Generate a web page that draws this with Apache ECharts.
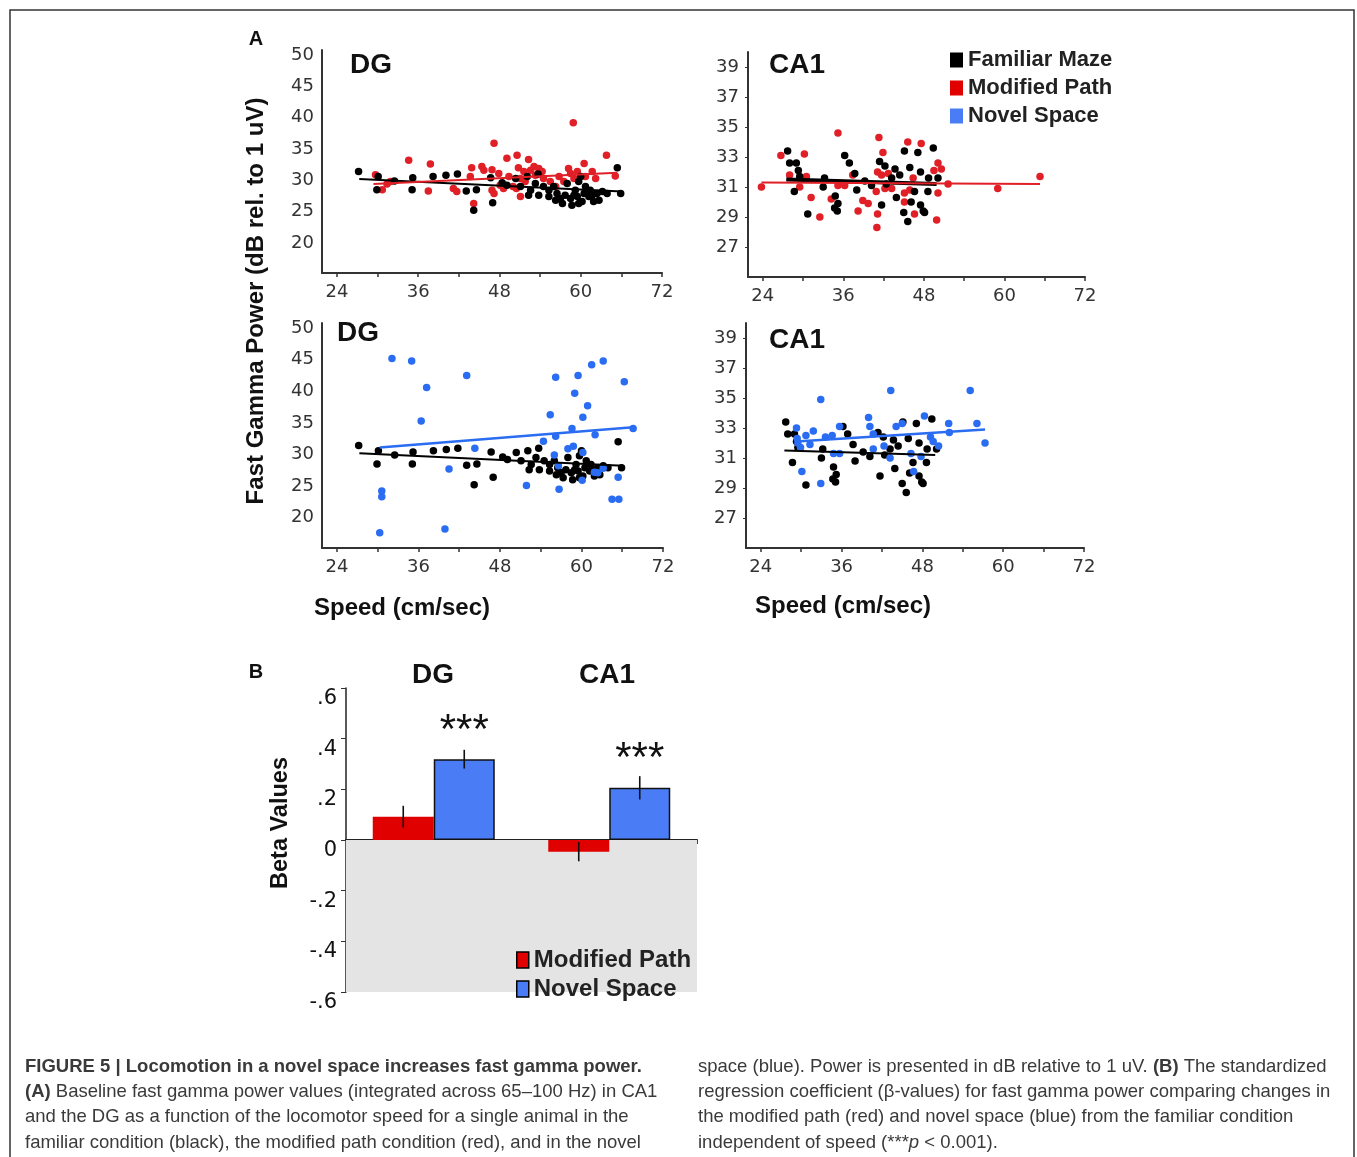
<!DOCTYPE html>
<html><head><meta charset="utf-8">
<script src="https://cdn.jsdelivr.net/npm/echarts@6/dist/echarts.min.js"></script>
<style>html,body{margin:0;padding:0;background:#fff}#c{width:1357px;height:1157px}</style>
</head><body><div id="c"></div>
<script>
// ---------- data ----------
const speedTicks = [24,30,36,42,48,54,60,66,72];
const speedLabels = [24,36,48,60,72];
const dgPowerLabels = [20,25,30,35,40,45,50];
const ca1PowerLabels = [27,29,31,33,35,37,39];

// DG, familiar maze (black)
const famDG = [[27.2,31.4],[30.1,30.6],[29.9,28.5],[32.5,29.9],[35.2,30.4],[35.1,28.5],[38.2,30.6],[40.1,30.8],[41.8,31.0],[43.1,28.3],[44.2,25.2],[44.6,28.5],[47.0,26.4],[46.7,30.4],[48.4,29.6],[49.1,29.2],[50.4,30.3],[51.1,29.0],[52.1,30.6],[52.3,27.6],[53.3,29.5],[53.7,31.0],[53.8,27.6],[54.5,29.0],[55.3,28.4],[56.0,29.0],[56.5,27.9],[57.0,27.1],[57.3,26.3],[57.7,27.6],[58.0,29.5],[58.5,27.1],[58.7,26.0],[59.2,28.4],[59.5,27.4],[59.7,29.8],[60.0,30.6],[60.2,26.6],[60.5,27.9],[60.7,29.0],[61.2,27.4],[61.4,28.4],[61.9,26.6],[62.4,27.9],[62.7,26.8],[63.2,28.2],[63.9,27.9],[65.4,32.0],[65.9,27.9],[56.3,26.8],[59.0,27.6],[61.7,27.6],[52.6,28.4],[55.3,27.4],[59.7,26.3]];
// DG, modified path (red)
const modDG = [[29.7,30.9],[30.7,28.5],[31.4,29.4],[31.9,29.8],[34.6,33.2],[37.8,32.6],[37.5,28.3],[41.2,28.7],[41.7,28.2],[43.9,32.0],[44.2,26.3],[43.7,30.6],[45.4,32.2],[45.7,31.6],[46.9,31.7],[47.2,35.9],[46.9,28.4],[47.2,27.9],[47.9,31.1],[48.1,29.2],[48.6,28.7],[49.1,33.5],[49.4,30.6],[50.0,29.0],[50.5,28.7],[50.6,34.0],[50.8,32.0],[51.1,30.3],[51.1,27.4],[51.6,31.4],[51.8,29.8],[52.3,33.3],[52.6,31.6],[53.1,32.2],[53.3,30.8],[53.8,31.9],[54.3,31.4],[54.5,30.3],[55.5,29.8],[56.3,29.0],[56.8,30.6],[57.5,29.8],[58.2,31.9],[58.5,31.1],[58.9,39.2],[59.0,30.3],[59.5,31.4],[60.5,32.7],[60.7,30.6],[61.7,31.4],[62.2,30.3],[63.8,34.0],[65.1,30.7]];
// DG, novel space (blue)
const novDG = [[32.1,45.2],[35.0,44.8],[37.2,40.6],[36.4,35.3],[30.3,17.6],[30.6,24.2],[30.6,23.3],[40.5,27.7],[39.9,18.2],[43.1,42.5],[44.3,31.0],[51.9,25.1],[54.4,32.1],[55.4,36.3],[56.2,42.2],[56.2,32.9],[56.0,29.9],[56.6,28.2],[56.7,24.5],[58.0,30.9],[58.6,34.1],[59.0,39.7],[59.5,42.5],[58.8,31.3],[60.2,35.9],[60.2,30.3],[60.1,25.9],[60.9,37.7],[61.5,44.2],[62.0,33.1],[61.9,27.2],[62.4,27.1],[63.2,27.8],[63.2,44.8],[64.5,22.9],[65.5,22.9],[65.4,26.4],[66.3,41.5],[67.6,34.1]];
// CA1, familiar maze (black)
const famCA1 = [[27.7,33.4],[28.0,32.6],[29.0,32.6],[28.7,30.7],[29.3,32.1],[29.5,31.7],[30.7,29.2],[33.0,31.0],[33.2,31.6],[34.8,30.4],[34.7,29.6],[35.2,29.9],[35.1,29.4],[36.2,33.1],[36.9,32.6],[37.7,31.9],[38.0,30.8],[39.2,31.4],[40.2,31.1],[41.4,32.7],[41.7,29.8],[42.2,32.4],[42.4,31.2],[43.2,31.6],[43.7,32.2],[43.9,30.3],[44.4,31.8],[45.1,33.4],[45.0,29.3],[45.6,28.7],[45.9,32.3],[46.1,30.0],[46.6,30.7],[47.1,33.3],[47.5,32.0],[47.5,29.8],[47.9,29.4],[48.1,29.3],[48.6,30.7],[48.7,31.6],[49.4,33.6],[50.1,31.6]];
// CA1, modified path (red)
const modCA1 = [[23.8,31.0],[26.7,33.1],[28.0,31.8],[29.5,31.0],[30.2,33.2],[30.5,31.7],[31.2,30.3],[32.5,29.0],[34.2,30.2],[35.2,34.6],[35.2,31.1],[36.2,31.1],[37.4,31.8],[38.2,29.4],[38.9,30.1],[39.7,29.9],[40.9,30.7],[41.1,32.0],[41.1,29.2],[41.0,28.3],[41.3,34.3],[41.7,31.8],[41.9,33.3],[42.2,30.9],[42.7,31.9],[43.2,30.9],[45.1,30.6],[45.1,30.0],[45.6,34.0],[45.9,30.8],[46.4,31.6],[46.6,29.2],[47.6,33.9],[49.5,32.1],[49.9,28.8],[50.1,32.6],[50.1,30.6],[50.6,32.2],[51.6,31.2],[59.0,30.9],[65.3,31.7]];
// CA1, novel space (blue)
const novCA1 = [[29.3,33.0],[29.4,32.3],[29.5,32.0],[29.9,31.7],[30.1,30.1],[30.7,32.5],[31.3,31.9],[31.8,32.8],[32.9,34.9],[32.9,29.3],[33.6,32.4],[34.6,32.5],[34.8,31.3],[35.7,33.1],[35.7,31.3],[40.0,33.7],[40.2,33.1],[40.7,32.6],[40.7,31.6],[42.3,31.8],[43.2,31.0],[43.3,35.5],[44.1,33.1],[45.0,33.3],[46.3,31.3],[46.7,30.1],[47.8,31.1],[48.3,33.8],[49.2,32.4],[49.6,32.1],[50.4,31.8],[51.9,33.3],[52.0,32.7],[55.1,35.5],[56.1,33.3],[57.3,32.0]];

// regression lines (end points)
const famDGFit = [[27.3,30.2],[66.1,28.2]];
const modDGFit = [[29.4,29.4],[65.4,31.2]];
const novDGFit = [[30.3,31.1],[67.6,34.3]];
const famCA1Fit = [[27.5,31.5],[49.9,31.2]];
const modCA1Fit = [[23.8,31.3],[65.3,31.2]];
const novCA1Fit = [[29.3,32.1],[57.3,32.9]];

// panel B
const regions = ['DG','CA1'];
const betaMod = [0.092,-0.046];
const betaNov = [0.319,0.206];
const errMod = [0.043,0.038];
const errNov = [0.037,0.046];

// ---------- styling ----------
const BLACK='#000000', RED='#e01f26', BLUE='#2a6cf2';
const BAR_RED='#e00000', BAR_BLUE='#4a7cf5';
const tickFont = {fontFamily:'DejaVu Sans', fontSize:18, color:'#333'};
const grids = [
  {left:322, top:50, width:340, height:223},
  {left:748, top:52, width:337, height:225},
  {left:322, top:323, width:341, height:225},
  {left:746, top:323, width:338, height:225},
  {left:346, top:688, width:351, height:304}
];
function speedAxis(g){
  return {type:'value', gridIndex:g, min:21.8, max:72,
    axisLine:{show:true, lineStyle:{color:'#333', width:2}},
    axisTick:{show:true, customValues:speedTicks, length:4, lineStyle:{color:'#333', width:1.5}},
    axisLabel:Object.assign({customValues:speedLabels, margin:10}, tickFont),
    splitLine:{show:false}};
}
function powerAxis(g, isDG){
  return {type:'value', gridIndex:g, min:isDG?15.2:25, max:isDG?50.8:40,
    axisLine:{show:true, lineStyle:{color:'#333', width:2}},
    axisTick:isDG?{show:false}:{show:true, customValues:ca1PowerLabels, length:3, lineStyle:{color:'#333'}},
    axisLabel:Object.assign({customValues:isDG?dgPowerLabels:ca1PowerLabels, margin:isDG?8:9}, tickFont),
    splitLine:{show:false}};
}
function scat(name, data, g, color){
  return {type:'scatter', name:name, xAxisIndex:g, yAxisIndex:g, data:data, symbolSize:7.5,
    itemStyle:{color:color, opacity:1}, z:3, silent:true};
}
function fit(data, g, color, w){
  return {type:'line', name:'fit', xAxisIndex:g, yAxisIndex:g, data:data, symbol:'none',
    lineStyle:{color:color, width:w||2}, z:5, silent:true};
}
function errRender(side){
  return function(params, api){
    const i = api.value(0), v = api.value(1), e = api.value(2);
    const hi = api.coord([i, v + e]), lo = api.coord([i, v - e]);
    const off = side * 30.5;
    return {type:'line', shape:{x1:hi[0]+off, y1:hi[1], x2:lo[0]+off, y2:lo[1]},
      style:{stroke:'#111', lineWidth:1.6}};
  };
}
function betaFmt(v){
  const s = Math.round(v*10)/10;
  if (s === 0) return '0';
  return (s < 0 ? '-' : '') + '.' + Math.round(Math.abs(s)*10);
}
function txt(x, y, text, size, extra){
  return Object.assign({type:'text', x:x, y:y, silent:true,
    style:{text:text, fontFamily:'Liberation Sans', fontWeight:'bold', fontSize:size, fill:'#111',
      align:'center', verticalAlign:'middle'}}, extra||{});
}
const CAP = 18.5;
const capFont = {fontFamily:'Liberation Sans', fontSize:CAP, fill:'#3a3a3a'};
function capRich(){
  return {
    n:{fontFamily:'Liberation Sans', fontSize:CAP, color:'#3a3a3a'},
    b:{fontFamily:'Liberation Sans', fontSize:CAP, fontWeight:'bold', color:'#222'},
    i:{fontFamily:'Liberation Sans', fontSize:CAP, fontStyle:'italic', color:'#3a3a3a'}
  };
}
function cap(x, y, text){
  return {type:'text', x:x, y:y, silent:true,
    style:Object.assign({text:text, rich:capRich(), align:'left', verticalAlign:'middle'}, capFont)};
}

const titleFont = 28;
const option = {
  animation:false,
  backgroundColor:'#ffffff',
  grid:grids,
  xAxis:[speedAxis(0), speedAxis(1), speedAxis(2), speedAxis(3),
    {type:'category', gridIndex:4, data:regions,
     axisLabel:{show:false},
     axisLine:{onZero:true, lineStyle:{color:'#222', width:2}},
     axisTick:{show:true, length:4, lineStyle:{color:'#444'}}}],
  yAxis:[powerAxis(0,true), powerAxis(1,false), powerAxis(2,true), powerAxis(3,false),
    {type:'value', gridIndex:4, min:-0.6, max:0.6, interval:0.2,
     axisLine:{show:true, lineStyle:{color:'#222', width:1.5}},
     axisTick:{show:true, length:5, lineStyle:{color:'#333'}},
     axisLabel:{formatter:betaFmt, verticalAlign:'top', margin:9, fontFamily:'DejaVu Sans', fontSize:21, color:'#111'},
     splitLine:{show:false}}],
  legend:[
    {left:945, top:44, orient:'vertical', itemWidth:13, itemHeight:15, itemGap:6, selectedMode:false,
     icon:'rect',
     textStyle:{fontFamily:'Liberation Sans', fontWeight:'bold', fontSize:22, lineHeight:22, color:'#222'},
     data:[{name:'Familiar Maze', itemStyle:{color:BLACK, opacity:1}},
           {name:'Modified Path', itemStyle:{color:'#e00000', opacity:1}},
           {name:'Novel Space', itemStyle:{color:'#4a7cf5', opacity:1}}]},
    {left:511, top:943, orient:'vertical', itemWidth:12, itemHeight:16, itemGap:5, selectedMode:false,
     icon:'rect',
     textStyle:{fontFamily:'Liberation Sans', fontWeight:'bold', fontSize:24, lineHeight:24, color:'#222'},
     data:[{name:'Modified Path', itemStyle:{color:BAR_RED, borderColor:'#000', borderWidth:1.5, opacity:1}},
           {name:'Novel Space', itemStyle:{color:BAR_BLUE, borderColor:'#000', borderWidth:1.5, opacity:1}}]}
  ],
  series:[
    scat('Modified Path', modDG, 0, RED), scat('Familiar Maze', famDG, 0, BLACK),
    fit(famDGFit, 0, BLACK), fit(modDGFit, 0, RED),
    scat('Modified Path', modCA1, 1, RED), scat('Familiar Maze', famCA1, 1, BLACK),
    fit(famCA1Fit, 1, BLACK, 4), fit(modCA1Fit, 1, RED),
    scat('Familiar Maze', famDG, 2, BLACK), scat('Novel Space', novDG, 2, BLUE),
    fit(famDGFit, 2, BLACK), fit(novDGFit, 2, BLUE, 2.5),
    scat('Familiar Maze', famCA1, 3, BLACK), scat('Novel Space', novCA1, 3, BLUE),
    fit(famCA1Fit, 3, BLACK), fit(novCA1Fit, 3, BLUE, 2.5),
    {type:'line', name:'bg', xAxisIndex:4, yAxisIndex:4, data:[], z:0, silent:true,
     markArea:{silent:true, itemStyle:{color:'#e4e4e4'}, data:[[{yAxis:0},{yAxis:-0.6}]]}},
    {type:'bar', name:'Modified Path', xAxisIndex:4, yAxisIndex:4, data:betaMod, barWidth:61, barGap:'0%',
     itemStyle:{color:BAR_RED}, z:2, silent:true},
    {type:'bar', name:'Novel Space', xAxisIndex:4, yAxisIndex:4, data:betaNov, barWidth:61, barGap:'0%',
     itemStyle:{color:BAR_BLUE, borderColor:'#111', borderWidth:1.5}, z:2, silent:true,
     label:{show:true, position:'top', formatter:'***', distance:7, fontFamily:'Liberation Sans', fontSize:42, color:'#111'}},
    {type:'custom', name:'errMod', xAxisIndex:4, yAxisIndex:4, z:6, silent:true,
     data:regions.map((r,i)=>[i, betaMod[i], errMod[i]]), renderItem:errRender(-1)},
    {type:'custom', name:'errNov', xAxisIndex:4, yAxisIndex:4, z:6, silent:true,
     data:regions.map((r,i)=>[i, betaNov[i], errNov[i]]), renderItem:errRender(1)}
  ],
  graphic:[
    {type:'rect', silent:true, shape:{x:10, y:10, width:1344, height:1200}, style:{fill:'none', stroke:'#333', lineWidth:1.5}},
    txt(256, 39, 'A', 20), txt(256, 672, 'B', 20),
    txt(371, 65, 'DG', titleFont), txt(797, 65, 'CA1', titleFont),
    txt(358, 333, 'DG', titleFont), txt(797, 340, 'CA1', titleFont),
    txt(433, 675, 'DG', titleFont), txt(607, 675, 'CA1', titleFont),
    txt(256, 301, 'Fast Gamma Power (dB rel. to 1 uV)', 24, {rotation:Math.PI/2}),
    txt(281, 823, 'Beta Values', 23.5, {rotation:Math.PI/2}),
    txt(402, 608, 'Speed (cm/sec)', 24), txt(843, 606, 'Speed (cm/sec)', 24),
    cap(25, 1067, '{b|FIGURE 5 | Locomotion in a novel space increases fast gamma power.}'),
    cap(25, 1092, '{b|(A)}{n| Baseline fast gamma power values (integrated across 65–100 Hz) in CA1}'),
    cap(25, 1117, '{n|and the DG as a function of the locomotor speed for a single animal in the}'),
    cap(25, 1143, '{n|familiar condition (black), the modified path condition (red), and in the novel}'),
    cap(698, 1067, '{n|space (blue). Power is presented in dB relative to 1 uV. }{b|(B)}{n| The standardized}'),
    cap(698, 1092, '{n|regression coefficient (β-values) for fast gamma power comparing changes in}'),
    cap(698, 1117, '{n|the modified path (red) and novel space (blue) from the familiar condition}'),
    cap(698, 1143, '{n|independent of speed (***}{i|p}{n| < 0.001).}')
  ]
};
const chart = echarts.init(document.getElementById('c'), null, {renderer:'canvas'});
chart.setOption(option);
</script></body></html>
